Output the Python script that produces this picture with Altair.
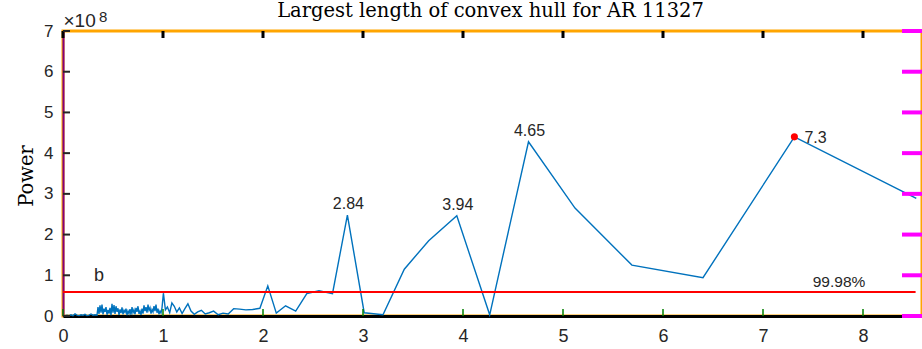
import altair as alt
import pandas as pd

period = [
    0.00, 0.02, 0.04, 0.06, 0.08, 0.10, 0.12, 0.14, 0.16, 0.18, 0.20, 0.22,
    0.24, 0.26, 0.28, 0.30, 0.32,
    0.34, 0.35, 0.36, 0.37, 0.38, 0.39, 0.40, 0.41, 0.42, 0.43, 0.44, 0.45,
    0.46, 0.47, 0.48, 0.49, 0.50, 0.51, 0.52, 0.53, 0.54, 0.55, 0.56, 0.57,
    0.58, 0.59, 0.60, 0.61, 0.62, 0.63, 0.64, 0.65, 0.66, 0.67, 0.68, 0.69,
    0.70, 0.71, 0.72, 0.73, 0.74, 0.75, 0.76, 0.77, 0.78, 0.79, 0.80, 0.81,
    0.82, 0.83, 0.84, 0.85, 0.86, 0.87, 0.88, 0.89, 0.90, 0.91, 0.92, 0.93,
    0.94, 0.95, 0.96, 0.97, 0.98, 0.99,
    1.004, 1.024, 1.044, 1.067, 1.089, 1.113, 1.138, 1.164, 1.191, 1.219,
    1.249, 1.280, 1.313, 1.347, 1.384, 1.422, 1.463, 1.506, 1.552, 1.600,
    1.652, 1.707, 1.766, 1.829, 1.896, 1.969, 2.048, 2.133, 2.226, 2.327,
    2.438, 2.560, 2.695, 2.844, 3.012, 3.200, 3.413, 3.657, 3.938, 4.267,
    4.655, 5.120, 5.689, 6.400, 7.314, 8.533,
]
power_e8 = [
    0.00, 0.01, 0.02, 0.01, 0.03, 0.01, 0.05, 0.02, 0.01, 0.03, 0.02, 0.04,
    0.01, 0.02, 0.05, 0.02, 0.03,
    0.02, 0.22, 0.05, 0.26, 0.08, 0.28, 0.04, 0.18, 0.10, 0.22, 0.03, 0.15,
    0.06, 0.20, 0.02, 0.30, 0.08, 0.27, 0.05, 0.24, 0.10, 0.19, 0.03, 0.16,
    0.07, 0.21, 0.04, 0.14, 0.09, 0.18, 0.02, 0.12, 0.06, 0.17, 0.03, 0.22,
    0.08, 0.15, 0.04, 0.20, 0.10, 0.24, 0.05, 0.12, 0.03, 0.18, 0.06, 0.26,
    0.12, 0.22, 0.08, 0.28, 0.14, 0.20, 0.06, 0.16, 0.10, 0.24, 0.12, 0.28,
    0.08, 0.18, 0.04, 0.12, 0.07, 0.20,
    0.56, 0.15, 0.22, 0.08, 0.32, 0.24, 0.10, 0.20, 0.06, 0.18,
    0.30, 0.12, 0.04, 0.10, 0.14, 0.05, 0.08, 0.12, 0.03, 0.07,
    0.05, 0.18, 0.17, 0.15, 0.16, 0.19, 0.74, 0.07, 0.25, 0.12,
    0.55, 0.62, 0.55, 2.48, 0.08, 0.03, 1.15, 1.85, 2.46, 0.03,
    4.28, 2.65, 1.25, 0.94, 4.40, 2.89,
]

peak_period = [2.844, 3.938, 4.655]
peak_power = [2.48, 2.46, 4.28]
peak_text = ["2.84", "3.94", "4.65"]
best_period = [7.314]
best_power = [4.40]
best_text = ["7.3"]
threshold_e8 = [0.59]
threshold_text = ["99.98%"]
threshold_label_period = [7.76]
threshold_label_power = [0.835]
panel_text = ["b"]
panel_period = [0.35]
panel_power = [1.0]
x_ticks = [0, 1, 2, 3, 4, 5, 6, 7, 8]
y_ticks = [0, 1, 2, 3, 4, 5, 6, 7]
title_text = "Largest length of convex hull for AR 11327"
y_title = "Power"

W, H = 859, 285
AX = "#262626"
BLUE = "#0072BD"
RED = "#FF0000"
SANS = "Liberation Sans"
SERIF = "DejaVu Serif"

xs = alt.Scale(domain=[0, 8.59], nice=False, zero=False)
ys = alt.Scale(domain=[0, 7], nice=False, zero=False)
x_axis = alt.Axis(values=x_ticks, tickSize=0, domainColor="black",
                  domainWidth=3, grid=False, labelFont=SANS, labelFontSize=18,
                  labelColor=AX, labelPadding=11, labelFlush=False,
                  format="d", title=None)
y_axis = alt.Axis(values=y_ticks, tickSize=0, domainColor="purple",
                  domainWidth=2, grid=False, labelFont=SANS, labelFontSize=17,
                  labelColor=AX, labelPadding=10, labelFlush=False,
                  format="d", title=None)

df = pd.DataFrame({"period": period, "power": power_e8})
line = alt.Chart(df).mark_line(color=BLUE, strokeWidth=1.4).encode(
    x=alt.X("period:Q", scale=xs, axis=x_axis),
    y=alt.Y("power:Q", scale=ys, axis=y_axis),
)

xt = pd.DataFrame({"period": x_ticks})
yt = pd.DataFrame({"power": y_ticks})
bot_ticks = alt.Chart(xt).mark_rule(color="green", strokeWidth=1.5).encode(
    x=alt.X("period:Q", scale=xs), y=alt.value(H), y2=alt.value(H - 7))
top_ticks = alt.Chart(xt).mark_rule(color="black", strokeWidth=3).encode(
    x=alt.X("period:Q", scale=xs), y=alt.value(0), y2=alt.value(7))
left_ticks = alt.Chart(yt).mark_rule(color=AX, strokeWidth=2).encode(
    y=alt.Y("power:Q", scale=ys), x=alt.value(0), x2=alt.value(7))
right_ticks = alt.Chart(yt).mark_rule(color="magenta", strokeWidth=4).encode(
    y=alt.Y("power:Q", scale=ys), x=alt.value(W), x2=alt.value(W - 20))

thr = alt.Chart(pd.DataFrame({"power": threshold_e8})).mark_rule(
    color=RED, strokeWidth=2
).encode(y=alt.Y("power:Q", scale=ys), x=alt.value(0), x2=alt.value(852.6))

best_pt = alt.Chart(pd.DataFrame({"period": best_period, "power": best_power})).mark_circle(
    color=RED, opacity=1, size=50
).encode(x=alt.X("period:Q", scale=xs), y=alt.Y("power:Q", scale=ys))


def label_layer(px, py, texts, **style):
    d = pd.DataFrame({"period": px, "power": py, "t": texts})
    return alt.Chart(d).mark_text(font=SANS, color=AX, **style).encode(
        x=alt.X("period:Q", scale=xs), y=alt.Y("power:Q", scale=ys), text="t:N")


peaks = label_layer(peak_period, peak_power, peak_text, fontSize=16,
                    baseline="alphabetic", align="center", dy=-6, dx=1)
best_lbl = label_layer(best_period, best_power, best_text, fontSize=16,
                       baseline="middle", align="left", dx=10, dy=1)
thr_lbl = label_layer(threshold_label_period, threshold_label_power,
                      threshold_text, fontSize=15.5, baseline="middle",
                      align="center")
panel_lbl = label_layer(panel_period, panel_power, panel_text, fontSize=18,
                        baseline="middle", align="center", dx=1, dy=1)


def free_text(txt, x, y, **style):
    return alt.Chart(pd.DataFrame({"t": [txt]})).mark_text(**style).encode(
        x=alt.value(x), y=alt.value(y), text="t:N")


title_mark = free_text(title_text, 427.5, -14.3, font=SERIF, fontSize=19.5,
                       color="#000000", align="center", baseline="alphabetic")
ytitle = free_text(y_title, 32.7 - 63, 176 - 31, font=SERIF, fontSize=19.5,
                   color="#000000", align="center", baseline="alphabetic",
                   angle=270)
exp_base = free_text("\u00d710", 0.5, -4.3, font=SANS, fontSize=19, color=AX,
                     align="left", baseline="alphabetic")
exp_pow = free_text("8", 36, -9.5, font=SANS, fontSize=15, color=AX,
                    align="left", baseline="alphabetic")

chart = alt.layer(
    line, bot_ticks, top_ticks, left_ticks, right_ticks,
    thr, best_pt, peaks, best_lbl, thr_lbl, panel_lbl,
    title_mark, ytitle, exp_base, exp_pow,
).properties(
    width=W, height=H,
    autosize=alt.AutoSizeParams(type="none"),
    padding={"left": 63, "top": 31, "right": 0, "bottom": 33},
).configure_view(stroke="orange", strokeWidth=3)

chart.save("out.html", embed_options={"renderer": "svg", "actions": False})
